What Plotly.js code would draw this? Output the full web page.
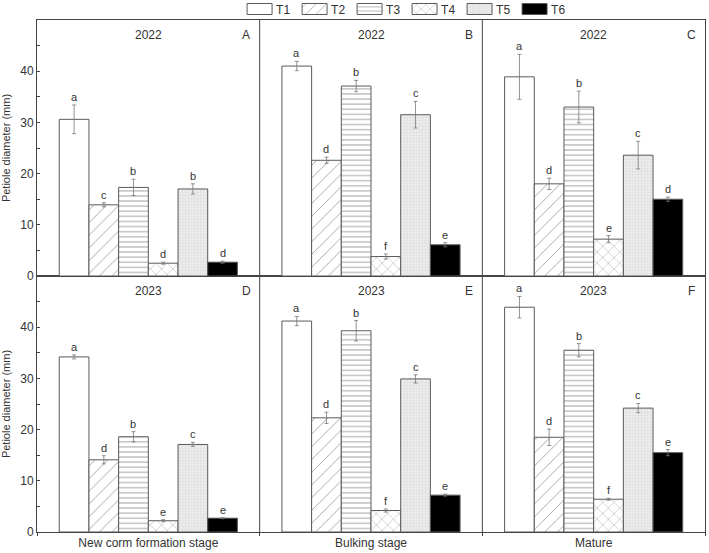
<!DOCTYPE html>
<html>
<head>
<meta charset="utf-8">
<script src="https://cdn.plot.ly/plotly-3.0.1.min.js"></script>
<style>html,body{margin:0;padding:0;background:#fff;}#chart{width:709px;height:553px;}</style>
</head>
<body>
<div id="chart"></div>
<script>
// ---- data ----
const stages = ['New corm formation stage', 'Bulking stage', 'Mature'];
const treatments = ['T1', 'T2', 'T3', 'T4', 'T5', 'T6'];
const years = ['2022', '2023'];
const panelLetters2022 = ['A', 'B', 'C'];
const panelLetters2023 = ['D', 'E', 'F'];

// 2022 means (mm) per treatment across stages
const mean2022_T1 = [30.6, 41.0, 38.9];
const mean2022_T2 = [13.9, 22.6, 18.0];
const mean2022_T3 = [17.3, 37.1, 33.0];
const mean2022_T4 = [2.5, 3.8, 7.2];
const mean2022_T5 = [17.0, 31.5, 23.6];
const mean2022_T6 = [2.7, 6.1, 15.0];
const err2022_T1 = [2.8, 0.9, 4.4];
const err2022_T2 = [0.4, 0.6, 1.1];
const err2022_T3 = [1.6, 1.1, 3.1];
const err2022_T4 = [0.2, 0.5, 0.7];
const err2022_T5 = [1.0, 2.6, 2.7];
const err2022_T6 = [0.2, 0.4, 0.4];
const sig2022_T1 = ['a', 'a', 'a'];
const sig2022_T2 = ['c', 'd', 'd'];
const sig2022_T3 = ['b', 'b', 'b'];
const sig2022_T4 = ['d', 'f', 'e'];
const sig2022_T5 = ['b', 'c', 'c'];
const sig2022_T6 = ['d', 'e', 'd'];

// 2023
const mean2023_T1 = [34.2, 41.2, 43.9];
const mean2023_T2 = [14.1, 22.3, 18.5];
const mean2023_T3 = [18.6, 39.3, 35.5];
const mean2023_T4 = [2.2, 4.2, 6.4];
const mean2023_T5 = [17.1, 29.9, 24.2];
const mean2023_T6 = [2.7, 7.2, 15.5];
const err2023_T1 = [0.4, 0.9, 2.1];
const err2023_T2 = [0.8, 1.1, 1.6];
const err2023_T3 = [1.0, 2.0, 1.3];
const err2023_T4 = [0.2, 0.3, 0.2];
const err2023_T5 = [0.4, 0.8, 0.9];
const err2023_T6 = [0.1, 0.2, 0.6];
const sig2023_T1 = ['a', 'a', 'a'];
const sig2023_T2 = ['d', 'd', 'd'];
const sig2023_T3 = ['b', 'b', 'b'];
const sig2023_T4 = ['e', 'f', 'f'];
const sig2023_T5 = ['c', 'c', 'c'];
const sig2023_T6 = ['e', 'e', 'e'];

const yTickVals = [0, 10, 20, 30, 40, 50];
const yTickText = ['0', '10', '20', '30', '40', ''];

// ---- build ----
const means = {
  '2022': [mean2022_T1, mean2022_T2, mean2022_T3, mean2022_T4, mean2022_T5, mean2022_T6],
  '2023': [mean2023_T1, mean2023_T2, mean2023_T3, mean2023_T4, mean2023_T5, mean2023_T6]
};
const errs = {
  '2022': [err2022_T1, err2022_T2, err2022_T3, err2022_T4, err2022_T5, err2022_T6],
  '2023': [err2023_T1, err2023_T2, err2023_T3, err2023_T4, err2023_T5, err2023_T6]
};
const sigs = {
  '2022': [sig2022_T1, sig2022_T2, sig2022_T3, sig2022_T4, sig2022_T5, sig2022_T6],
  '2023': [sig2023_T1, sig2023_T2, sig2023_T3, sig2023_T4, sig2023_T5, sig2023_T6]
};
const panelLetters = {'2022': panelLetters2022, '2023': panelLetters2023};

const outline = '#5a5a5a';
const styles = [
  {color: '#ffffff', pattern: {shape: ''}},
  {color: '#ffffff', pattern: {shape: '/', fgcolor: '#8a8a8a', bgcolor: '#ffffff', size: 9, solidity: 0.08}},
  {color: '#ffffff', pattern: {shape: '-', fgcolor: '#6a6a6a', bgcolor: '#ffffff', size: 5.1, solidity: 0.12}},
  {color: '#ffffff', pattern: {shape: 'x', fgcolor: '#7a7a7a', bgcolor: '#ffffff', size: 8, solidity: 0.08}},
  {color: '#e9e9e9', pattern: {shape: '+', fgcolor: '#d6d6d6', bgcolor: '#ececec', size: 3, solidity: 0.25}},
  {color: '#000000', pattern: {shape: ''}}
];

const font = 'Liberation Sans, Arial, sans-serif';
const txt = '#333333';
const traces = [];
const annotations = [];
const bargap = 0.2;
const barW = (1 - bargap) / treatments.length;

years.forEach((yr, r) => {
  const xa = r === 0 ? 'x2' : 'x';
  const ya = r === 0 ? 'y2' : 'y';
  treatments.forEach((t, j) => {
    traces.push({
      type: 'bar', name: t, x: stages, y: means[yr][j],
      xaxis: xa, yaxis: ya, showlegend: r === 0, legendgroup: t,
      marker: {color: styles[j].color, pattern: styles[j].pattern, line: {color: outline, width: 1}},
      error_y: {type: 'data', array: errs[yr][j], visible: true, color: '#777777', thickness: 0.8, width: 2},
      hoverinfo: 'y'
    });
    stages.forEach((s, i) => {
      annotations.push({
        xref: xa, yref: ya, x: i + (j - (treatments.length - 1) / 2) * barW,
        y: means[yr][j][i] + errs[yr][j][i], yanchor: 'bottom', yshift: 0,
        text: sigs[yr][j][i], showarrow: false, font: {family: font, size: 11, color: txt}
      });
    });
  });
  stages.forEach((s, i) => {
    annotations.push({xref: xa, yref: ya + ' domain', x: i, y: 0.94, yanchor: 'middle',
      text: yr, showarrow: false, font: {family: font, size: 12, color: txt}});
    annotations.push({xref: xa, yref: ya + ' domain', x: i + 0.44, y: 0.94, yanchor: 'middle',
      text: panelLetters[yr][i], showarrow: false, font: {family: font, size: 12, color: txt}});
  });
});

const yAxisBase = {
  range: [0, 50], tickvals: yTickVals, ticktext: yTickText,
  ticks: 'inside', ticklen: 3, tickcolor: '#444', showline: true, linecolor: '#444', linewidth: 1,
  mirror: true, showgrid: false, zeroline: false,
  minor: {tickvals: [5, 15, 25, 35, 45], ticks: 'inside', ticklen: 3, tickcolor: '#444', showgrid: false},
  tickfont: {family: font, size: 12, color: txt},
  title: {text: 'Petiole diameter (mm)', font: {family: font, size: 11, color: txt}, standoff: 8}
};
const xAxisBase = {
  type: 'category', range: [-0.5, 2.5], showline: true, linecolor: '#444', linewidth: 1, mirror: true,
  showgrid: false, zeroline: false, tickson: 'boundaries', ticks: 'outside', ticklen: 3, tickcolor: '#444',
  tickfont: {family: font, size: 12, color: txt}
};

const shapes = [];
[0.5, 1.5].forEach(b => {
  shapes.push({type: 'line', xref: 'x', yref: 'paper', x0: b, x1: b, y0: 0, y1: 1,
    line: {color: '#444', width: 1}});
});

const layout = {
  width: 709, height: 553,
  margin: {l: 37, r: 4, t: 20, b: 21, autoexpand: false},
  paper_bgcolor: '#ffffff', plot_bgcolor: '#ffffff',
  barmode: 'group', bargap: bargap, bargroupgap: 0,
  font: {family: font, color: txt},
  xaxis: Object.assign({}, xAxisBase, {anchor: 'y', domain: [0, 1]}),
  xaxis2: Object.assign({}, xAxisBase, {anchor: 'y2', domain: [0, 1], showticklabels: false, ticks: ''}),
  yaxis: Object.assign({}, yAxisBase, {anchor: 'x', domain: [0, 0.5]}),
  yaxis2: Object.assign({}, yAxisBase, {anchor: 'x2', domain: [0.5, 1]}),
  legend: {orientation: 'h', x: 0.298, xanchor: 'left', y: 1.0215, yanchor: 'middle',
    font: {family: font, size: 12, color: txt}, traceorder: 'normal', itemwidth: 30,
    entrywidth: 10, entrywidthmode: 'pixels',
    bgcolor: 'rgba(0,0,0,0)', tracegroupgap: 0},
  annotations: annotations,
  shapes: shapes,
  showlegend: true
};

Plotly.newPlot('chart', traces, layout, {displayModeBar: false, staticPlot: true}).then(gd => {
  // widen legend swatches to rectangles like the original key
  gd.querySelectorAll('.legend .legendpoints path').forEach(p => {
    p.setAttribute('d', 'M16,5.5H-9V-5.5H16Z');
  });
});
</script>
</body>
</html>
